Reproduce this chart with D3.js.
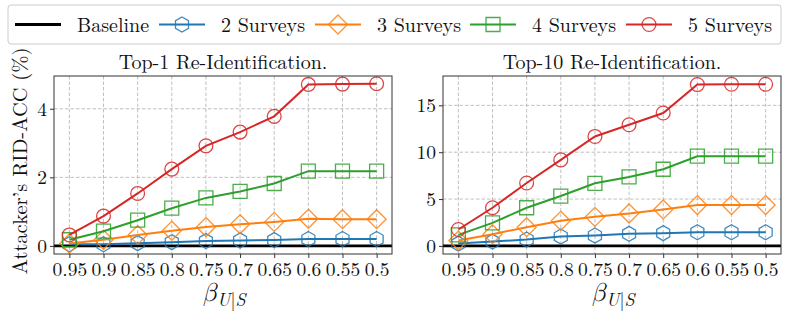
<!DOCTYPE html>
<html>
<head>
<meta charset="utf-8">
<script src="https://d3js.org/d3.v7.min.js"></script>
<style>
    body { margin: 0; background: white; }
    .grid line { stroke: #b0b0b0; stroke-width: 0.8px; stroke-dasharray: 3.5,2; }
</style>
</head>
<body>
<script>
    // beta values along the x axis (categorical, evenly spaced)
    const betas = ["0.95", "0.9", "0.85", "0.8", "0.75", "0.7", "0.65", "0.6", "0.55", "0.5"];

    // Top-1 re-identification accuracy (%)
    const top1_2 = [0.05, 0.05, 0.08, 0.11, 0.14, 0.16, 0.17, 0.20, 0.20, 0.20];
    const top1_3 = [0.07, 0.18, 0.32, 0.44, 0.55, 0.63, 0.70, 0.79, 0.78, 0.78];
    const top1_4 = [0.18, 0.43, 0.75, 1.10, 1.40, 1.59, 1.82, 2.18, 2.18, 2.18];
    const top1_5 = [0.32, 0.87, 1.53, 2.24, 2.92, 3.32, 3.78, 4.71, 4.72, 4.73];

    // Top-10 re-identification accuracy (%)
    const top10_2 = [0.25, 0.46, 0.68, 1.00, 1.11, 1.29, 1.36, 1.46, 1.46, 1.46];
    const top10_3 = [0.57, 1.25, 2.00, 2.68, 3.10, 3.46, 3.89, 4.36, 4.36, 4.36];
    const top10_4 = [1.18, 2.46, 4.07, 5.32, 6.68, 7.36, 8.18, 9.57, 9.57, 9.57];
    const top10_5 = [1.75, 4.07, 6.71, 9.18, 11.68, 12.93, 14.18, 17.22, 17.25, 17.25];

    const seriesNames = ["2 Surveys", "3 Surveys", "4 Surveys", "5 Surveys"];
    const colors = ["#1f77b4", "#ff7f0e", "#2ca02c", "#d62728"];
    const markers = ["hex", "diamond", "square", "circle"];

    const top1Ticks = [0, 2, 4];
    const top10Ticks = [0, 5, 10, 15];

    const FONT = "'Latin Modern Roman', 'Liberation Serif', serif";

    var svg = d3.select("body").append("svg")
        .attr("width", 789).attr("height", 318);

    // marker shapes, unfilled
    function markerPath(kind) {
        if (kind == "circle") return d3.symbol(d3.symbolCircle, 150)();
        if (kind == "square") return "M-7,-7H7V7H-7Z";
        if (kind == "diamond") return "M0,-9.5L9.5,0L0,9.5L-9.5,0Z";
        // hexagon, pointy top
        var pts = d3.range(6).map(function (i) {
            var a = Math.PI / 3 * i - Math.PI / 2;
            return [7.5 * Math.cos(a), 7.5 * Math.sin(a)];
        });
        return "M" + pts.join("L") + "Z";
    }

    function drawPanel(opt) {
        var x = d3.scaleLinear().domain([-0.45, betas.length - 1 + 0.45]).range([opt.left, opt.right]);
        var y = d3.scaleLinear().domain(opt.ydom).range([254, 76]);
        var g = svg.append("g");

        // grid
        var grid = g.append("g").attr("class", "grid");
        grid.selectAll(".gx").data(betas).enter().append("line")
            .attr("x1", function (d, i) { return x(i); }).attr("x2", function (d, i) { return x(i); })
            .attr("y1", 76).attr("y2", 254);
        grid.selectAll(".gy").data(opt.ticks).enter().append("line")
            .attr("y1", function (d) { return y(d); }).attr("y2", function (d) { return y(d); })
            .attr("x1", opt.left).attr("x2", opt.right);

        // baseline at zero
        g.append("line")
            .attr("x1", opt.left).attr("x2", opt.right)
            .attr("y1", y(0)).attr("y2", y(0))
            .attr("stroke", "black").attr("stroke-width", 2.8);

        opt.series.forEach(function (vals, k) {
            var line = d3.line().x(function (d, i) { return x(i); }).y(function (d) { return y(d); });
            g.append("path").datum(vals)
                .attr("d", line)
                .attr("fill", "none").attr("stroke", colors[k]).attr("stroke-width", 2);
            g.selectAll(".m" + k).data(vals).enter().append("path")
                .attr("transform", function (d, i) { return "translate(" + x(i) + "," + y(d) + ")"; })
                .attr("d", markerPath(markers[k]))
                .attr("fill", "none").attr("stroke", colors[k]).attr("stroke-opacity", 0.85)
                .attr("stroke-width", 1.3);
        });

        // frame
        g.append("rect").attr("x", opt.left).attr("y", 76)
            .attr("width", opt.right - opt.left).attr("height", 178)
            .attr("fill", "none").attr("stroke", "#333").attr("stroke-width", 1);

        // axes
        var xAxis = d3.axisBottom(x).tickValues(d3.range(betas.length))
            .tickFormat(function (i) { return betas[i]; }).tickSize(4).tickPadding(4);
        var ax = g.append("g").attr("transform", "translate(0,254)").call(xAxis);
        var yAxis = d3.axisLeft(y).tickValues(opt.ticks).tickFormat(d3.format("d"))
            .tickSize(4).tickPadding(3);
        var ay = g.append("g").attr("transform", "translate(" + opt.left + ",0)").call(yAxis);
        [ax, ay].forEach(function (a) {
            a.select(".domain").remove();
            a.selectAll("line").attr("stroke", "#333");
            a.selectAll("text").style("font-family", FONT).style("font-size", "19.5px").attr("fill", "#111");
        });

        // title
        g.append("text").attr("x", (opt.left + opt.right) / 2).attr("y", 69)
            .attr("text-anchor", "middle").style("font-family", FONT).style("font-size", "20px")
            .attr("fill", "#111").text(opt.title);

        // x label: beta with subscript U|S
        var xl = g.append("text").attr("x", (opt.left + opt.right) / 2 + 1).attr("y", 301)
            .attr("text-anchor", "middle").attr("fill", "#111")
            .style("font-family", "'Latin Modern Math', 'DejaVu Serif', serif").style("font-style", "italic");
        xl.append("tspan").style("font-size", "26px").text("β");
        xl.append("tspan").style("font-size", "18px").style("font-family", FONT).attr("dy", 5).text("U");
        xl.append("tspan").style("font-size", "18px").style("font-family", FONT).style("font-style", "normal").text("|");
        xl.append("tspan").style("font-size", "18px").style("font-family", FONT).text("S");
    }

    drawPanel({ left: 54, right: 392, ydom: [-0.236, 4.956], ticks: top1Ticks,
        series: [top1_2, top1_3, top1_4, top1_5], title: "Top-1 Re-Identification." });
    drawPanel({ left: 443, right: 781, ydom: [-0.863, 18.13], ticks: top10Ticks,
        series: [top10_2, top10_3, top10_4, top10_5], title: "Top-10 Re-Identification." });

    // y label
    svg.append("text").attr("transform", "translate(27,161) rotate(-90)")
        .attr("text-anchor", "middle").attr("fill", "#111")
        .style("font-family", FONT).style("font-size", "20.5px").text("Attacker’s RID-ACC (%)");

    // legend
    var leg = svg.append("g");
    leg.append("rect").attr("x", 8).attr("y", 5).attr("width", 773).attr("height", 39)
        .attr("rx", 3).attr("fill", "white").attr("stroke", "#ccc").attr("stroke-width", 1);
    var legItems = [{ name: "Baseline", color: "black", marker: null, x: 15 }];
    seriesNames.forEach(function (n, k) {
        legItems.push({ name: n, color: colors[k], marker: markers[k], x: [159, 315, 470, 626][k] });
    });
    legItems.forEach(function (d) {
        leg.append("line").attr("x1", d.x).attr("x2", d.x + 46).attr("y1", 24.5).attr("y2", 24.5)
            .attr("stroke", d.color).attr("stroke-width", d.marker ? 2 : 2.8);
        if (d.marker) {
            leg.append("path").attr("transform", "translate(" + (d.x + 23) + ",24.5)")
                .attr("d", markerPath(d.marker)).attr("fill", "none")
                .attr("stroke", d.color).attr("stroke-opacity", 0.85).attr("stroke-width", 1.3);
        }
        leg.append("text").attr("x", d.x + 62).attr("y", 31.5).attr("fill", "#111")
            .style("font-family", FONT).style("font-size", "20px").text(d.name);
    });
</script>
</body>
</html>
